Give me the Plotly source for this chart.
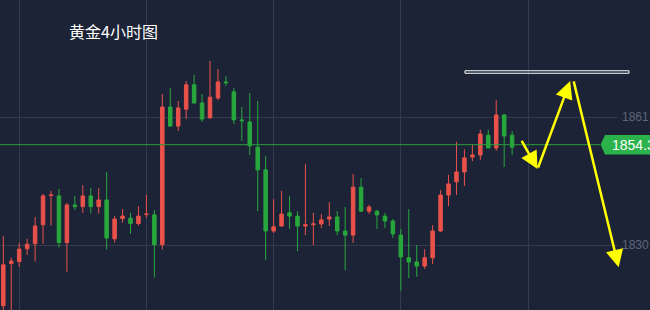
import plotly.graph_objects as go

# ---- data (4-hour gold candles) ----
opens = [1815.3, 1825.5, 1826.0, 1829.1, 1830.3, 1834.9, 1842.0, 1841.9, 1830.6, 1839.7,
         1839.3, 1841.9, 1839.3, 1840.9, 1831.5, 1836.4, 1836.5, 1835.2, 1837.4, 1837.3,
         1830.1, 1863.4, 1858.8, 1862.9, 1868.8, 1864.4, 1860.8, 1865.6, 1869.5, 1867.1,
         1860.3, 1859.8, 1853.7, 1848.2, 1833.4, 1834.6, 1837.8, 1837.0, 1834.6, 1834.9,
         1835.1, 1836.3, 1836.8, 1833.4, 1832.4, 1844.0, 1838.2, 1838.2, 1837.0, 1835.8,
         1832.4, 1826.9, 1825.9, 1824.9, 1826.9, 1833.4, 1842.1, 1845.3, 1847.7, 1851.3,
         1851.8, 1856.6, 1853.5, 1861.5, 1856.6]
highs = [1832.2, 1826.9, 1830.5, 1831.5, 1836.8, 1842.4, 1843.1, 1843.6, 1840.2, 1841.9,
         1844.5, 1843.8, 1843.8, 1847.7, 1837.0, 1838.7, 1837.8, 1839.4, 1842.1, 1838.5,
         1866.6, 1868.0, 1864.9, 1869.7, 1871.2, 1866.6, 1874.6, 1872.6, 1870.9, 1868.0,
         1863.4, 1866.8, 1864.9, 1851.6, 1841.1, 1843.1, 1841.9, 1838.2, 1849.6, 1837.8,
         1837.5, 1840.4, 1838.2, 1839.2, 1847.2, 1846.2, 1839.7, 1838.5, 1837.8, 1836.3,
         1833.9, 1838.7, 1830.0, 1829.0, 1834.8, 1843.3, 1847.0, 1855.0, 1853.2, 1854.2,
         1857.9, 1857.9, 1865.1, 1861.7, 1857.6]
lows = [1813.5, 1813.0, 1824.7, 1827.6, 1826.0, 1830.3, 1834.7, 1829.4, 1823.5, 1838.5,
        1837.8, 1837.6, 1837.6, 1828.9, 1830.6, 1835.4, 1832.7, 1834.7, 1836.6, 1822.1,
        1828.9, 1858.6, 1857.6, 1860.5, 1864.1, 1859.8, 1860.6, 1865.1, 1868.5, 1859.3,
        1855.2, 1851.8, 1838.2, 1826.4, 1832.9, 1834.4, 1833.9, 1828.5, 1832.4, 1830.0,
        1834.1, 1834.6, 1832.4, 1823.9, 1830.5, 1838.0, 1837.5, 1833.9, 1834.1, 1831.7,
        1818.9, 1822.0, 1822.3, 1824.2, 1825.4, 1833.2, 1839.4, 1842.1, 1844.3, 1850.3,
        1850.6, 1853.5, 1852.8, 1848.9, 1851.8]
closes = [1825.2, 1826.1, 1829.0, 1830.2, 1834.6, 1841.9, 1842.1, 1830.6, 1839.7, 1839.3,
          1841.9, 1839.3, 1840.9, 1831.7, 1836.3, 1837.0, 1835.2, 1837.0, 1837.5, 1830.1,
          1863.4, 1858.8, 1863.2, 1868.8, 1864.4, 1860.5, 1865.8, 1869.5, 1869.3, 1860.3,
          1860.1, 1854.0, 1848.2, 1833.4, 1834.4, 1837.5, 1837.0, 1834.6, 1834.9, 1835.1,
          1836.1, 1836.8, 1833.4, 1832.4, 1844.0, 1838.2, 1839.2, 1837.3, 1835.8, 1832.7,
          1827.1, 1825.9, 1824.9, 1826.9, 1833.4, 1842.1, 1844.8, 1847.7, 1851.1, 1851.8,
          1856.9, 1853.5, 1861.5, 1856.4, 1853.7]
bar_index = list(range(len(opens)))

title_text = "黄金4小时图"
last_price = 1854.3
last_price_label = "1854.3"
y_tick_values = [1830, 1861]
y_tick_labels = ["1830", "1861"]
x_grid_values = [2, 18, 34, 50, 66]
resistance_zone = (1871.6, 1872.2)

# forecast arrows: (tail_x, tail_y, head_x, head_y) in bar-index / price units
forecast_arrows = [
    (65.1, 1855.6, 67.2, 1848.4),
    (67.2, 1848.4, 71.3, 1869.7),
    (71.7, 1870.0, 77.4, 1824.6),
]

BG = "#1c2336"
GRID = "#343b4e"
RED = "#e9524a"
GREEN = "#28a83c"

fig = go.Figure()
fig.add_trace(go.Candlestick(
    x=bar_index, open=opens, high=highs, low=lows, close=closes,
    increasing=dict(line=dict(color=RED, width=1), fillcolor=RED),
    decreasing=dict(line=dict(color=GREEN, width=1), fillcolor=GREEN),
    whiskerwidth=0, showlegend=False, hoverinfo="skip",
))

shapes = [
    # last price line
    dict(type="line", xref="paper", yref="y", x0=0, x1=0.9724, y0=last_price, y1=last_price,
         line=dict(color="#2a9d3c", width=1), layer="above"),
    # last price tag
    dict(type="path", xref="paper", yref="y", xsizemode="pixel", ysizemode="pixel",
         xanchor=1, yanchor=last_price,
         path="M -16.5,0 L -12,-9.7 L 45,-9.7 L 45,9.7 L -12,9.7 Z",
         fillcolor="#2bb24a", line=dict(width=0), layer="above"),
    # resistance box
    dict(type="rect", xref="paper", yref="y", x0=0.7536, x1=1.0194,
         y0=resistance_zone[0], y1=resistance_zone[1],
         line=dict(color="#ffffff", width=1), fillcolor="rgba(0,0,0,0)", layer="above"),
]

annotations = [
    dict(text=title_text, xref="paper", yref="paper", x=67 / 617, y=1 - 30.5 / 310,
         xanchor="left", yanchor="middle", showarrow=False,
         font=dict(family="Noto Sans CJK SC", size=16, color="#ffffff")),
    dict(text=last_price_label, xref="paper", yref="y", x=1, y=last_price, xshift=-7,
         xanchor="left", yanchor="middle", showarrow=False,
         font=dict(family="Liberation Sans, Arial", size=14, color="#ffffff")),
]
for tx, ty, hx, hy in forecast_arrows:
    annotations.append(dict(
        text="", x=hx, y=hy, ax=tx, ay=ty, xref="x", yref="y", axref="x", ayref="y",
        showarrow=True, arrowhead=2, arrowsize=1.4, arrowwidth=2.5, arrowcolor="#ffff00",
        standoff=0, startstandoff=0,
    ))

fig.update_layout(
    width=650, height=310,
    margin=dict(l=0, r=33, t=0, b=0),
    paper_bgcolor=BG, plot_bgcolor=BG,
    boxgap=0.37,
    shapes=shapes, annotations=annotations,
    xaxis=dict(range=[-0.415, 77.19], tickvals=x_grid_values, showticklabels=False,
               showgrid=True, gridcolor=GRID, gridwidth=1, zeroline=False, showline=False,
               rangeslider=dict(visible=False), fixedrange=True),
    yaxis=dict(side="right", range=[1814.26, 1889.34], tickvals=y_tick_values,
               ticktext=y_tick_labels, showgrid=True, gridcolor=GRID, gridwidth=1,
               zeroline=False, showline=False, ticks="", ticklabelstandoff=4,
               tickfont=dict(family="Liberation Sans, Arial", size=12, color="#5f6779"),
               fixedrange=True),
    hovermode=False,
)

fig.write_html("out.html")
